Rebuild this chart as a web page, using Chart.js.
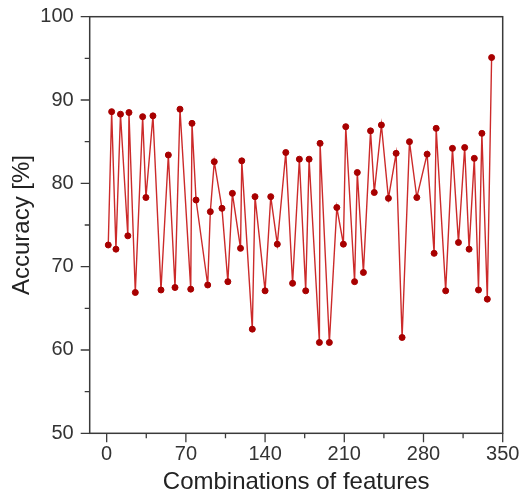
<!DOCTYPE html>
<html>
<head>
<meta charset="utf-8">
<script src="https://cdn.jsdelivr.net/npm/chart.js@4.4.1/dist/chart.umd.min.js"></script>
<style>
  html, body { margin: 0; padding: 0; background: #ffffff; }
  #wrap { width: 529px; height: 503px; }
</style>
</head>
<body>
<div id="wrap"><canvas id="c" width="529" height="503"></canvas></div>
<script>
// ---- data ----
const combinations = [
  1.4, 4.4, 8.2, 12.2, 18.7, 19.7, 25.3, 31.8, 34.7, 40.9,
  48.0, 54.5, 60.4, 64.8, 74.3, 75.4, 79.0, 89.3, 91.6, 95.1,
  101.9, 107.1, 111.1, 118.3, 119.4, 128.7, 131.1, 140.0, 145.0, 150.8,
  158.3, 164.3, 170.3, 175.9, 178.9, 188.0, 188.6, 196.8, 203.4, 209.2,
  211.3, 219.1, 221.5, 226.9, 233.2, 236.5, 242.8, 249.0, 255.8, 261.1,
  267.6, 274.1, 283.2, 289.4, 291.2, 299.6, 305.6, 310.9, 316.4, 320.3,
  324.9, 328.6, 331.6, 336.4, 340.2
];
const accuracy = [
  72.6, 88.6, 72.1, 88.3, 73.7, 88.5, 66.9, 88.0, 78.3, 88.1,
  67.2, 83.4, 67.5, 88.9, 67.3, 87.2, 78.0, 67.8, 76.6, 82.6,
  77.0, 68.2, 78.8, 72.2, 82.7, 62.5, 78.4, 67.1, 78.4, 72.7,
  83.7, 68.0, 82.9, 67.1, 82.9, 60.9, 84.8, 60.9, 77.1, 72.7,
  86.8, 68.2, 81.3, 69.3, 86.3, 78.9, 87.0, 78.2, 83.6, 61.5,
  85.0, 78.3, 83.5, 71.6, 86.6, 67.1, 84.2, 72.9, 84.3, 72.1,
  83.0, 67.2, 86.0, 66.1, 95.1
];
const xTicks = [0, 35, 70, 105, 140, 175, 210, 245, 280, 315, 350];
const xLabelStep = 70;
const yTicks = [50, 55, 60, 65, 70, 75, 80, 85, 90, 95, 100];
const yLabelStep = 10;
const xTitle = 'Combinations of features';
const yTitle = 'Accuracy [%]';

// ---- frame and tick marks plugin ----
const framePlugin = {
  id: 'frame',
  afterDatasetsDraw(chart) {
    const ctx = chart.ctx;
    const a = chart.chartArea;
    const xs = chart.scales.x, ys = chart.scales.y;
    ctx.save();
    ctx.strokeStyle = '#3a3a3a';
    ctx.lineWidth = 1.5;
    ctx.strokeRect(a.left, a.top, a.right - a.left, a.bottom - a.top);
    ctx.lineWidth = 1.3;
    ctx.beginPath();
    xs.ticks.forEach(t => {
      const px = xs.getPixelForValue(t.value);
      const len = (t.value % xLabelStep === 0) ? 9 : 5;
      ctx.moveTo(px, a.bottom);
      ctx.lineTo(px, a.bottom + len);
    });
    ys.ticks.forEach(t => {
      const py = ys.getPixelForValue(t.value);
      const len = (t.value % yLabelStep === 0) ? 9 : 5;
      ctx.moveTo(a.left, py);
      ctx.lineTo(a.left - len, py);
    });
    ctx.stroke();
    ctx.restore();
  }
};

const fontFamily = '"Liberation Sans", Arial, sans-serif';

new Chart(document.getElementById('c'), {
  type: 'line',
  data: {
    datasets: [{
      data: combinations.map((x, i) => ({ x: x, y: accuracy[i] })),
      borderColor: '#cc2a2a',
      borderWidth: 1.4,
      pointRadius: 3,
      pointBackgroundColor: '#a80000',
      pointBorderColor: '#a80000',
      pointBorderWidth: 1,
      tension: 0,
      fill: false
    }]
  },
  options: {
    responsive: false,
    animation: false,
    devicePixelRatio: 1,
    layout: { padding: { top: 16.7, right: 26.3, left: 0, bottom: 0 } },
    plugins: { legend: { display: false }, tooltip: { enabled: false } },
    scales: {
      x: {
        type: 'linear',
        min: -15,
        max: 350,
        afterBuildTicks(scale) { scale.ticks = xTicks.map(v => ({ value: v })); },
        afterFit(scale) { scale.height = 69.7; scale.paddingLeft = 0; scale.paddingRight = 0; },
        grid: { display: false, drawTicks: false },
        border: { display: false },
        ticks: {
          autoSkip: false,
          maxRotation: 0,
          padding: 9,
          color: '#333333',
          font: { family: fontFamily, size: 20 },
          callback: v => (v % xLabelStep === 0 ? String(v) : '')
        },
        title: {
          display: true,
          text: xTitle,
          color: '#222222',
          font: { family: fontFamily, size: 24, lineHeight: 1.2 },
          padding: { top: 0, bottom: 6 }
        }
      },
      y: {
        type: 'linear',
        min: 50,
        max: 100,
        afterBuildTicks(scale) { scale.ticks = yTicks.map(v => ({ value: v })); },
        afterFit(scale) { scale.width = 89.7; scale.paddingTop = 0; scale.paddingBottom = 0; },
        grid: { display: false, drawTicks: false },
        border: { display: false },
        ticks: {
          autoSkip: false,
          padding: 16,
          color: '#333333',
          font: { family: fontFamily, size: 20 },
          callback: v => (v % yLabelStep === 0 ? String(v) : '')
        },
        title: {
          display: true,
          text: yTitle,
          color: '#222222',
          font: { family: fontFamily, size: 24, lineHeight: 1.2 },
          padding: { top: 8, bottom: 0 }
        }
      }
    }
  },
  plugins: [framePlugin]
});
</script>
</body>
</html>
